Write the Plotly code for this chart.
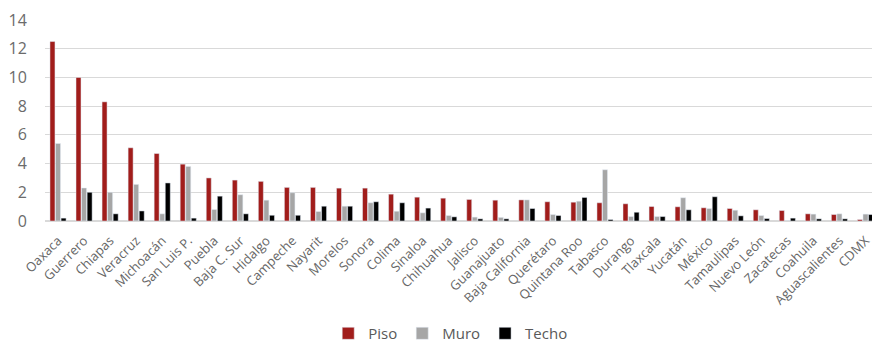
import plotly.graph_objects as go

estados = ["Oaxaca", "Guerrero", "Chiapas", "Veracruz", "Michoacán", "San Luis P.", "Puebla",
           "Baja C. Sur", "Hidalgo", "Campeche", "Nayarit", "Morelos", "Sonora", "Colima",
           "Sinaloa", "Chihuahua", "Jalisco", "Guanajuato", "Baja California", "Querétaro",
           "Quintana Roo", "Tabasco", "Durango", "Tlaxcala", "Yucatán", "México", "Tamaulipas",
           "Nuevo León", "Zacatecas", "Coahuila", "Aguascalientes", "CDMX"]

piso = [12.5, 10.0, 8.3, 5.1, 4.7, 3.96, 3.0, 2.85, 2.76, 2.34, 2.34, 2.29, 2.29, 1.87,
        1.66, 1.59, 1.5, 1.45, 1.47, 1.34, 1.31, 1.27, 1.2, 1.01, 0.99, 0.92, 0.87,
        0.78, 0.73, 0.5, 0.45, 0.1]
muro = [5.4, 2.3, 2.0, 2.55, 0.5, 3.8, 0.8, 1.83, 1.45, 1.97, 0.66, 1.03, 1.27, 0.68,
        0.57, 0.38, 0.27, 0.25, 1.47, 0.45, 1.38, 3.57, 0.31, 0.31, 1.62, 0.87, 0.75,
        0.38, 0.02, 0.48, 0.5, 0.48]
techo = [0.2, 2.0, 0.5, 0.7, 2.65, 0.2, 1.73, 0.5, 0.4, 0.4, 1.03, 1.03, 1.34, 1.27,
         0.9, 0.29, 0.15, 0.15, 0.87, 0.38, 1.64, 0.1, 0.61, 0.31, 0.78, 1.69, 0.36,
         0.17, 0.2, 0.15, 0.15, 0.45]

y_ticks = [0, 2, 4, 6, 8, 10, 12, 14]

fig = go.Figure()
fig.add_trace(go.Bar(name="Piso", x=estados, y=piso, marker_color="#A11D1B"))
fig.add_trace(go.Bar(name="Muro", x=estados, y=muro, marker_color="#A6A6A6"))
fig.add_trace(go.Bar(name="Techo", x=estados, y=techo, marker_color="#000000"))

fig.update_layout(
    width=872, height=342,
    margin=dict(l=45, r=0, t=20, b=121, autoexpand=False),
    paper_bgcolor="white", plot_bgcolor="white",
    barmode="group", bargap=0.36, bargroupgap=0.1,
    font=dict(family="Open Sans, Liberation Sans, sans-serif", color="#666666"),
    showlegend=True,
    legend=dict(orientation="h", x=0.49, xanchor="center", y=-0.56, yanchor="middle",
                font=dict(size=15, color="#595959"), traceorder="normal"),
)
fig.update_xaxes(range=[-0.5, 31.25], tickangle=-45, tickfont=dict(size=13, color="#666666"),
                 showgrid=False, showline=False, ticks="outside", ticklen=6,
                 tickcolor="rgba(0,0,0,0)", automargin=False)
fig.update_yaxes(range=[0, 14], tickvals=y_ticks, tickfont=dict(size=16, color="#6b6b6b"),
                 showgrid=True, gridcolor="#D9D9D9", gridwidth=1.2, automargin=False,
                 ticks="outside", ticklen=14, tickcolor="rgba(0,0,0,0)",
                 zeroline=True, zerolinecolor="#D9D9D9", zerolinewidth=1.5)

fig.write_html("out.html")
